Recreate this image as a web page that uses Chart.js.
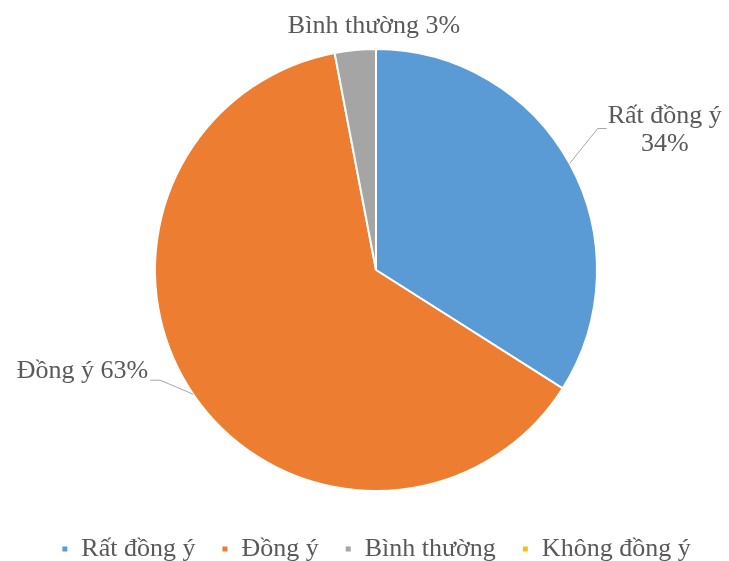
<!DOCTYPE html>
<html lang="vi">
<head>
<meta charset="UTF-8">
<title>Pie</title>
<script src="https://cdn.jsdelivr.net/npm/chart.js"></script>
<style>
  html, body { margin: 0; padding: 0; background: #fff; }
  #wrap { width: 729px; height: 561px; }
</style>
</head>
<body>
<div id="wrap"><canvas id="pie" width="729" height="561"></canvas></div>
<script>
// data
const labels = ['Rất đồng ý', 'Đồng ý', 'Bình thường', 'Không đồng ý'];
const values = [34, 63, 3, 0];
const colors = ['#5B9BD5', '#ED7D31', '#A5A5A5', '#FFC000'];

const FONT = "'Liberation Serif', 'Times New Roman', serif";
const TEXT = '#595959';
const FSIZE = 26;

// fixed legend height so the pie keeps its place
const legendHeight = {
  id: 'legendHeight',
  beforeInit(chart) {
    const fit = chart.legend.fit;
    chart.legend.fit = function () {
      fit.call(this);
      this.height = 51;
    };
  }
};

// labels with leader lines, placed from each arc's own geometry
const outsideLabels = {
  id: 'outsideLabels',
  afterDatasetsDraw(chart) {
    const ctx = chart.ctx;
    const meta = chart.getDatasetMeta(0);
    ctx.save();
    ctx.font = FSIZE + 'px ' + FONT;
    ctx.fillStyle = TEXT;
    ctx.strokeStyle = '#A6A6A6';
    ctx.lineWidth = 1;
    meta.data.forEach((arc, i) => {
      if (!values[i]) return;
      const p = arc.getProps(['x', 'y', 'startAngle', 'endAngle', 'outerRadius'], true);
      const mid = (p.startAngle + p.endAngle) / 2;
      const ex = p.x + Math.cos(mid) * p.outerRadius;
      const ey = p.y + Math.sin(mid) * p.outerRadius;
      if (i === 0) {
        const bx = ex + 28, by = ey - 35, cx = bx + 9;
        ctx.beginPath(); ctx.moveTo(ex, ey); ctx.lineTo(bx, by); ctx.lineTo(cx, by); ctx.stroke();
        const l1 = labels[i], l2 = values[i] + '%';
        const w = ctx.measureText(l1).width;
        ctx.textAlign = 'center'; ctx.textBaseline = 'middle';
        ctx.fillText(l1, cx + 1 + w / 2, by - 12);
        ctx.fillText(l2, cx + 1 + w / 2, by + 16);
      } else if (i === 1) {
        const bx = ex - 33, by = ey - 14, cx = bx - 10;
        ctx.beginPath(); ctx.moveTo(ex, ey); ctx.lineTo(bx, by); ctx.lineTo(cx, by); ctx.stroke();
        ctx.textAlign = 'right'; ctx.textBaseline = 'middle';
        ctx.fillText(labels[i] + ' ' + values[i] + '%', cx - 2, by - 9);
      } else {
        ctx.textAlign = 'center'; ctx.textBaseline = 'middle';
        ctx.fillText(labels[i] + ' ' + values[i] + '%', p.x - 2, p.y - p.outerRadius - 23);
      }
    });
    ctx.restore();
  }
};

new Chart(document.getElementById('pie'), {
  type: 'pie',
  data: {
    labels: labels,
    datasets: [{
      data: values,
      backgroundColor: colors,
      borderColor: '#ffffff',
      borderWidth: 2
    }]
  },
  options: {
    responsive: false,
    animation: false,
    radius: 221,
    layout: { padding: { top: 30, left: 23, right: 0, bottom: 0 } },
    plugins: {
      tooltip: { enabled: false },
      legend: {
        position: 'bottom',
        labels: {
          color: TEXT,
          font: { family: FONT, size: FSIZE },
          boxWidth: 7,
          boxHeight: 7,
          padding: 26
        }
      }
    }
  },
  plugins: [legendHeight, outsideLabels]
});
</script>
</body>
</html>
